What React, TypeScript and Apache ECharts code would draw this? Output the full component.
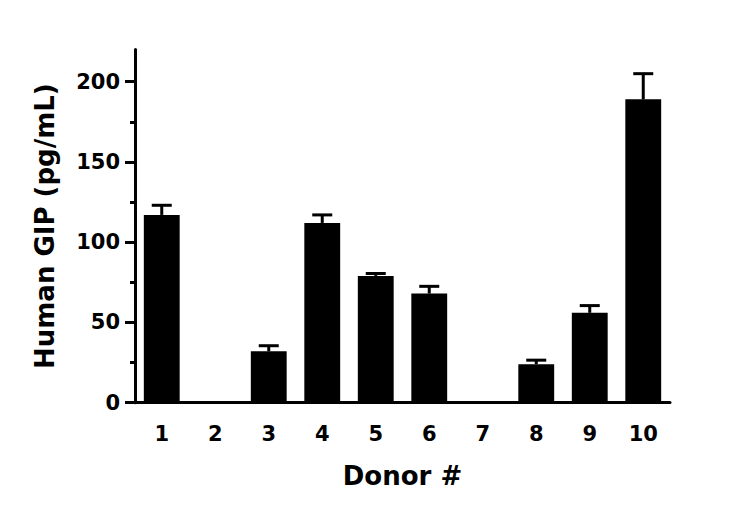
import React, { useEffect, useRef } from "react";
import * as echarts from "echarts";

const donors = ["1", "2", "3", "4", "5", "6", "7", "8", "9", "10"];
const meanValues = [117, 0, 32, 112, 79, 68, 0, 24, 56, 189];
const errorUpper = [123, null, 35.5, 117, 80.5, 72.5, null, 26.5, 60.5, 205];
const majorTicks = [0, 50, 100, 150, 200];
const minorTicks = [25, 75, 125, 175];

const FONT = "DejaVu Sans";

export default function App() {
  const ref = useRef<HTMLDivElement>(null);
  useEffect(() => {
    const chart = echarts.init(ref.current!, null, { renderer: "svg" });
    const errData = donors.map((_, i) => [i, meanValues[i], errorUpper[i]]);
    chart.setOption({
      animation: false,
      backgroundColor: "#ffffff",
      grid: { left: 135, right: 80, top: 49.6, bottom: 114.3, containLabel: false },
      xAxis: {
        type: "category",
        data: donors,
        axisLine: { lineStyle: { color: "#000", width: 3 } },
        axisTick: { alignWithLabel: true, length: 10, lineStyle: { color: "#000", width: 3 } },
        axisLabel: { color: "#000", fontFamily: FONT, fontWeight: "bold", fontSize: 21, margin: 21 },
        name: "Donor #",
        nameLocation: "middle",
        nameGap: 60,
        nameTextStyle: { color: "#000", fontFamily: FONT, fontWeight: "bold", fontSize: 26 },
        splitLine: { show: false },
      },
      yAxis: [
        {
          type: "value",
          min: 0,
          max: 220,
          interval: 50,
          axisLine: { show: true, lineStyle: { color: "#000", width: 3 } },
          axisTick: { show: true, length: 10, customValues: majorTicks, lineStyle: { color: "#000", width: 3 } },
          axisLabel: { color: "#000", fontFamily: FONT, fontWeight: "bold", fontSize: 21, margin: 15, customValues: majorTicks },
          splitLine: { show: false },
          name: "Human GIP (pg/mL)",
          nameLocation: "middle",
          nameGap: 77,
          nameTextStyle: { color: "#000", fontFamily: FONT, fontWeight: "bold", fontSize: 26 },
        },
        {
          type: "value",
          min: 0,
          max: 220,
          interval: 50,
          position: "left",
          axisLine: { show: false },
          axisTick: { show: true, length: 5, customValues: minorTicks, lineStyle: { color: "#000", width: 3 } },
          axisLabel: { show: false },
          splitLine: { show: false },
        },
      ],
      series: [
        {
          type: "bar",
          data: meanValues,
          barWidth: "67%",
          itemStyle: { color: "#000" },
          z: 2,
        },
        {
          type: "custom",
          data: errData,
          z: 3,
          renderItem: (params: any, api: any) => {
            const hi = api.value(2);
            if (hi === null || hi === undefined || isNaN(hi)) return null;
            const x = api.value(0);
            const lo = api.value(1);
            const p0 = api.coord([x, lo]);
            const p1 = api.coord([x, hi]);
            const hw = 10;
            const style = { stroke: "#000", lineWidth: 3, fill: "none" };
            return {
              type: "group",
              children: [
                { type: "line", shape: { x1: p0[0], y1: p0[1], x2: p1[0], y2: p1[1] }, style },
                { type: "line", shape: { x1: p1[0] - hw, y1: p1[1], x2: p1[0] + hw, y2: p1[1] }, style },
              ],
            };
          },
        },
      ],
    });
    return () => chart.dispose();
  }, []);
  return <div ref={ref} style={{ position: "absolute", left: 0, top: 0, width: 750, height: 517 }} />;
}
